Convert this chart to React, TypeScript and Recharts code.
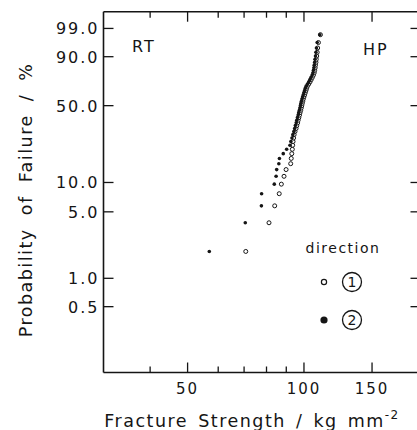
import { ScatterChart, Scatter, XAxis, YAxis, Legend } from 'recharts';

// fracture strength (kg/mm^2), sorted low -> high, one value per specimen
const dir1Strength = [
  70.7, 81.2, 84.0, 86.3, 87.4, 88.8, 89.9, 92.4, 92.7, 93.0,
  93.3, 93.5, 93.7, 94.0, 94.3, 94.8, 95.4, 95.8, 96.3, 96.6,
  97.0, 97.4, 97.7, 98.1, 98.4, 98.7, 99.0, 99.3, 99.6, 100.0,
  100.4, 100.8, 101.2, 101.6, 102.1, 102.9, 103.7, 104.4, 105.1, 105.8,
  106.3, 106.6, 106.9, 107.1, 107.4, 107.6, 107.9, 108.2, 108.5, 109.0,
  110.3,
];
const dir2Strength = [
  56.9, 70.5, 77.6, 77.7, 83.8, 84.7, 85.0, 86.1, 86.4, 88.4,
  90.2, 92.0, 92.5, 93.1, 93.6, 94.2, 94.6, 95.0, 95.5, 95.8,
  96.2, 96.6, 96.9, 97.3, 97.6, 97.9, 98.2, 98.5, 98.8, 99.2,
  99.6, 100.0, 100.4, 100.8, 101.3, 102.1, 102.9, 103.6, 104.3, 105.0,
  105.5, 105.8, 106.1, 106.3, 106.6, 106.8, 107.1, 107.4, 107.7, 108.2,
  109.9,
];

const seriesNames = ['1', '2'];
const xMajorTicks = [50, 100, 150];
const xMinorTicks = [40, 60, 70, 80, 90];
const yTickPercents = [99, 90, 50, 10, 5, 1, 0.5];
const yTickLabels = ['99.0', '90.0', '50.0', '10.0', '5.0', '1.0', '0.5'];

const INK = '#151515';
const FONT = '"DejaVu Sans", sans-serif';
const X_DOMAIN = [30.3, 199];
const Y_DOMAIN = [-6.91, 1.9375];

// Weibull probability paper: ln(-ln(1 - F))
const weibull = (pct: number) => Math.log(-Math.log(1 - pct / 100));

// median-rank plotting position i/(n+1)
const toPoints = (values: number[]) =>
  values.map((s, i) => ({ s, w: weibull(((i + 1) / (values.length + 1)) * 100) }));

const dir1Points = toPoints(dir1Strength);
const dir2Points = toPoints(dir2Strength);

const xTicks = [...xMinorTicks, ...xMajorTicks].sort((a, b) => a - b);
const yTicks = yTickPercents.map(weibull);

const BottomTick = (props: any) => {
  const { x, y, payload } = props;
  const major = xMajorTicks.includes(payload.value);
  return (
    <g>
      <line x1={x} x2={x} y1={y} y2={y - (major ? 10 : 6)} stroke={INK} strokeWidth={1.3} />
      {major && (
        <text x={x} y={y + 21} textAnchor="middle" fontSize={15} letterSpacing={2} fill={INK} fontFamily={FONT}>
          {payload.value}
        </text>
      )}
    </g>
  );
};

const TopTick = (props: any) => {
  const { x, y, payload } = props;
  const major = xMajorTicks.includes(payload.value);
  return <line x1={x} x2={x} y1={y} y2={y + (major ? 10 : 6)} stroke={INK} strokeWidth={1.3} />;
};

const LeftTick = (props: any) => {
  const { x, y, index } = props;
  return (
    <g>
      <line x1={x} x2={x + 10} y1={y} y2={y} stroke={INK} strokeWidth={1.3} />
      <text x={x - 4} y={y + 6} textAnchor="end" fontSize={16} letterSpacing={2} fill={INK} fontFamily={FONT}>
        {yTickLabels[index]}
      </text>
    </g>
  );
};

const RightTick = (props: any) => {
  const { x, y } = props;
  return <line x1={x} x2={x - 9} y1={y} y2={y} stroke={INK} strokeWidth={1.3} />;
};

const OpenDot = (p: any) => <circle cx={p.cx} cy={p.cy} r={2} fill="#fff" stroke={INK} strokeWidth={1} />;
const FilledDot = (p: any) => <circle cx={p.cx} cy={p.cy} r={1.8} fill={INK} />;

const renderLegend = (props: any) => {
  const items = props.payload || [];
  return (
    <svg width={120} height={100} style={{ display: 'block' }}>
      <text x={53} y={17} textAnchor="middle" fontSize={14} letterSpacing={1.5} fill={INK} fontFamily={FONT}>
        direction
      </text>
      {items.map((item: any, i: number) => {
        const cy = 46 + i * 38;
        return (
          <g key={item.value}>
            {i === 0 ? (
              <circle cx={34} cy={cy} r={2.6} fill="#fff" stroke={INK} strokeWidth={1.2} />
            ) : (
              <circle cx={34} cy={cy} r={3.6} fill={INK} />
            )}
            <circle cx={62} cy={cy} r={9.5} fill="none" stroke={INK} strokeWidth={1.3} />
            <text x={62} y={cy + 5} textAnchor="middle" fontSize={14} fill={INK} fontFamily={FONT}>
              {item.value}
            </text>
          </g>
        );
      })}
    </svg>
  );
};

const XTitle = () => (
  <text x={252} y={427} textAnchor="middle" fontSize={17.5} letterSpacing={1.5} wordSpacing={3} fill={INK} fontFamily={FONT}>
    Fracture Strength / kg mm
    <tspan fontSize={12} dy={-8}>-2</tspan>
  </text>
);

const YTitle = () => (
  <text
    x={32}
    y={200}
    transform="rotate(-90 32 200)"
    textAnchor="middle"
    fontSize={17.5}
    letterSpacing={1.5}
    wordSpacing={6}
    fill={INK}
    fontFamily={FONT}
  >
    Probability of Failure / %
  </text>
);

export default function App() {
  return (
    <div style={{ position: 'absolute', left: 0, top: 0, width: 417, height: 430, overflow: 'hidden', background: '#fff' }}>
      <ScatterChart width={420} height={430} margin={{ top: 10.7, right: -0.5, bottom: 7.5, left: 3.5 }}>
        <XAxis
          xAxisId="b"
          dataKey="s"
          type="number"
          scale="log"
          domain={X_DOMAIN}
          allowDataOverflow
          ticks={xTicks}
          interval={0}
          height={50}
          tickSize={0}
          tickMargin={0}
          tickLine={false}
          tick={<BottomTick />}
          axisLine={{ stroke: INK, strokeWidth: 1.6 }}
        />
        <XAxis
          xAxisId="t"
          orientation="top"
          dataKey="s"
          type="number"
          scale="log"
          domain={X_DOMAIN}
          allowDataOverflow
          ticks={xTicks}
          interval={0}
          height={1}
          tickSize={0}
          tickMargin={0}
          tickLine={false}
          tick={<TopTick />}
          axisLine={{ stroke: INK, strokeWidth: 1.6 }}
        />
        <YAxis
          yAxisId="l"
          dataKey="w"
          type="number"
          domain={Y_DOMAIN}
          allowDataOverflow
          ticks={yTicks}
          interval={0}
          width={100}
          tickSize={0}
          tickMargin={0}
          tickLine={false}
          tick={<LeftTick />}
          axisLine={{ stroke: INK, strokeWidth: 1.6 }}
        />
        <YAxis
          yAxisId="r"
          orientation="right"
          dataKey="w"
          type="number"
          domain={Y_DOMAIN}
          allowDataOverflow
          ticks={yTicks}
          interval={0}
          width={1}
          tickSize={0}
          tickMargin={0}
          tickLine={false}
          tick={<RightTick />}
          axisLine={{ stroke: INK, strokeWidth: 1.6 }}
        />
        <Scatter
          name={seriesNames[0]}
          data={dir1Points}
          xAxisId="b"
          yAxisId="l"
          shape={OpenDot}
          isAnimationActive={false}
        />
        <Scatter
          name={seriesNames[1]}
          data={dir2Points}
          xAxisId="b"
          yAxisId="l"
          shape={FilledDot}
          isAnimationActive={false}
        />
        <Legend
          layout="horizontal"
          verticalAlign="middle"
          align="center"
          content={renderLegend}
          wrapperStyle={{ position: 'absolute', left: 290, top: 236, width: 120, height: 100 }}
        />
        <text x={132} y={52} fontSize={16} letterSpacing={2} fill={INK} fontFamily={FONT}>RT</text>
        <text x={363} y={55} fontSize={16} letterSpacing={2} fill={INK} fontFamily={FONT}>HP</text>
        <XTitle />
        <YTitle />
      </ScatterChart>
    </div>
  );
}
